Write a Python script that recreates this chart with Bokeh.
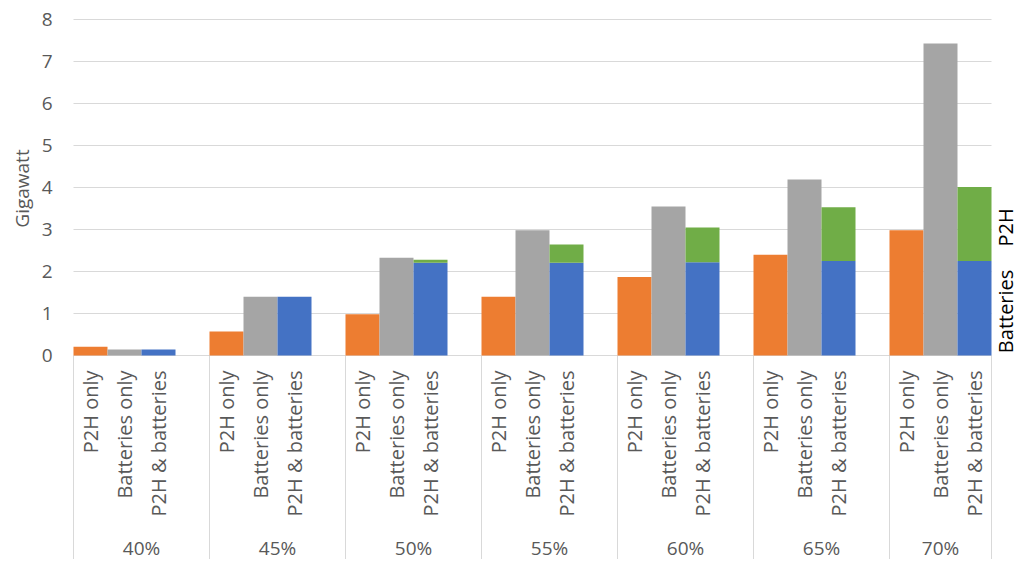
import numpy as np
from bokeh.plotting import figure
from bokeh.models import ColumnDataSource, Range1d
from bokeh.embed import file_html
from bokeh.resources import INLINE
from bokeh.core.properties import value

# ---- data ----
shares = ["40%", "45%", "50%", "55%", "60%", "65%", "70%"]
scenarios = ["P2H only", "Batteries only", "P2H & batteries"]
p2h_only = [0.21, 0.57, 0.98, 1.40, 1.87, 2.40, 2.98]
batteries_only = [0.14, 1.40, 2.33, 2.98, 3.55, 4.19, 7.43]
combo_batteries = [0.14, 1.40, 2.21, 2.21, 2.22, 2.25, 2.25]
combo_p2h = [0.00, 0.00, 0.07, 0.43, 0.83, 1.28, 1.76]
stack_labels = ["Batteries", "P2H"]
y_ticks = [0, 1, 2, 3, 4, 5, 6, 7, 8]
y_label = "Gigawatt"

# ---- styling / layout ----
ORANGE, GRAY, BLUE, GREEN = "#ED7D31", "#A5A5A5", "#4472C4", "#70AD47"
GRID = "#D9D9D9"
TXT = "#595959"
FONT = "Open Sans"
W, H = 1019, 559
PXX, PXY = 34.0, 42.0     # pixels per unit in x and y
X0PX, Y0PX = 73.0, 355.0  # canvas position of x=0, y=0

n = len(shares)
slots = len(scenarios) + 1   # 3 bars + a gap
x_end_boundary = n * slots - 1

p = figure(width=W, height=H,
           x_range=Range1d(-X0PX / PXX, (W - X0PX) / PXX),
           y_range=Range1d((Y0PX - H) / PXY, Y0PX / PXY),
           output_backend="svg", toolbar_location=None,
           x_axis_location=None, y_axis_location=None,
           min_border=0, min_border_left=0, min_border_right=0,
           min_border_top=0, min_border_bottom=0)
p.outline_line_color = None
p.xgrid.grid_line_color = None
p.ygrid.grid_line_color = None
p.background_fill_color = "white"
p.border_fill_color = "white"

def xpos(s):
    return [g * slots + s + 0.5 for g in range(n)]

src = ColumnDataSource(dict(
    x0=xpos(0), x1=xpos(1), x2=xpos(2),
    p2h_only=p2h_only, batteries_only=batteries_only,
    cb=combo_batteries,
    ct=[b + q for b, q in zip(combo_batteries, combo_p2h)],
))

# horizontal gridlines
p.segment(x0=0, x1=x_end_boundary, y0=y_ticks, y1=y_ticks, line_color=GRID, line_width=1)

# category dividers below the axis
bounds = [g * slots for g in range(n)] + [x_end_boundary]
p.segment(x0=bounds, x1=bounds, y0=0, y1=(Y0PX - 563) / PXY, line_color=GRID, line_width=1)

# bars
p.vbar(x="x0", top="p2h_only", bottom=0, width=1, source=src, fill_color=ORANGE, line_color=None)
p.vbar(x="x1", top="batteries_only", bottom=0, width=1, source=src, fill_color=GRAY, line_color=None)
p.vbar(x="x2", top="cb", bottom=0, width=1, source=src, fill_color=BLUE, line_color=None)
p.vbar(x="x2", top="ct", bottom="cb", width=1, source=src, fill_color=GREEN, line_color=None)

# y tick labels and axis title
p.text(x=-21 / PXX, y=y_ticks, text=[str(t) for t in y_ticks],
       text_align="right", text_baseline="middle", text_color=TXT,
       text_font=value(FONT), text_font_size="19px", text_line_height=1.0)
p.text(x=[-52 / PXX], y=[167 / PXY], text=[y_label], angle=np.pi / 2,
       text_align="center", text_baseline="middle", text_color=TXT,
       text_font=value(FONT), text_font_size="19px")

# stack segment labels at the right
p.text(x=[932 / PXX, 932 / PXX], y=[1.05, 3.05], text=stack_labels, angle=np.pi / 2,
       text_align="center", text_baseline="middle", text_color="#000000",
       text_font=value(FONT), text_font_size="20px")

# rotated scenario labels
cat_x, cat_t = [], []
for s, name in enumerate(scenarios):
    cat_x += xpos(s)
    cat_t += [name] * n
p.text(x=cat_x, y=-15 / PXY, text=cat_t, angle=np.pi / 2,
       text_align="right", text_baseline="middle", text_color=TXT,
       text_font=value(FONT), text_font_size="20px")

# group labels
mid = [(a + b) / 2 for a, b in zip(bounds[:-1], bounds[1:])]
p.text(x=mid, y=-192 / PXY, text=shares, text_align="center", text_baseline="middle",
       text_color=TXT, text_font=value(FONT), text_font_size="19px", text_line_height=1.0)

open("out.html", "w").write(file_html(p, INLINE))
